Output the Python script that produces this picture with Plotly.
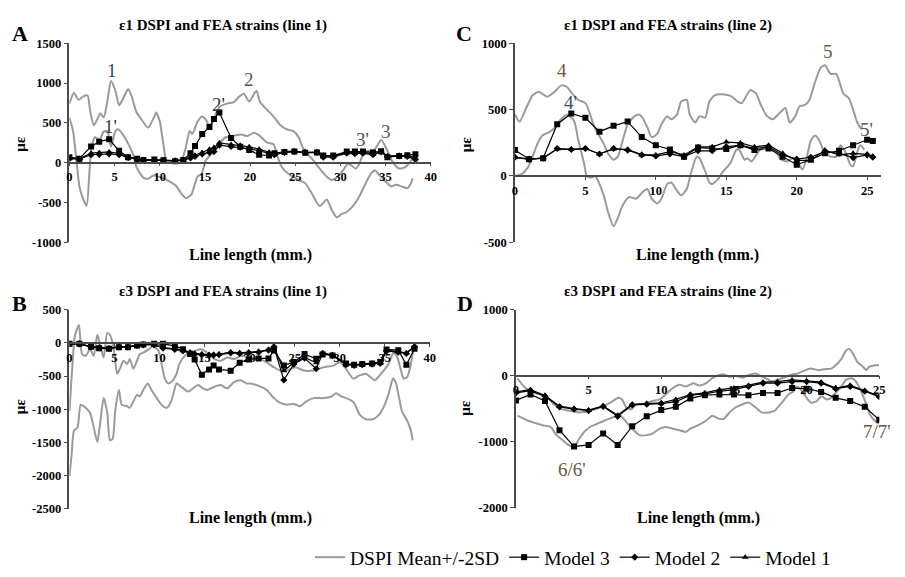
import plotly.graph_objects as go

W, H = 905, 577
OFF = 8  # page body margin of the html page

# ---------------- Panel A: e1 line 1 ----------------
A_UP_X = [0, 0.5, 1.0, 1.5, 2.0, 2.3, 2.7, 3.1, 3.4, 3.8, 4.2, 4.6, 5.1, 5.5, 6.0, 6.5, 6.9, 7.4, 8.0, 8.7, 9.4, 9.6, 10.0, 10.4, 10.8, 11.3, 12.0, 12.5, 12.9, 13.3, 13.6, 14.2, 14.7, 15.1, 15.6, 16.0, 16.6, 17.5, 18.2, 18.8, 19.3, 19.9, 20.7, 21.1, 21.9, 22.6, 23.3, 24.1, 24.8, 25.4, 25.9, 26.5, 27.0, 27.7, 28.5, 29.0, 29.7, 30.3, 30.8, 31.2, 31.7, 32.1, 32.6, 33.2, 33.8, 34.5, 35.2, 35.8, 36.5, 37.2, 37.7, 38.0]
A_UP_Y = [740, 880, 790, 830, 845, 650, 470, 550, 620, 570, 770, 1030, 900, 720, 820, 925, 830, 640, 540, 440, 580, 630, 520, 230, 0, 20, 30, 60, 200, 400, 360, 520, 580, 540, 440, 560, 700, 745, 760, 830, 865, 770, 905, 764, 662, 580, 478, 417, 396, 315, 172, 90, 29, -74, -176, -216, -176, -94, -12, -33, -74, -12, 131, 150, 170, 285, 151, 8, -74, -53, 8, 70]
A_LO_X = [0, 0.4, 0.8, 1.1, 1.4, 1.9, 2.2, 2.4, 2.8, 3.3, 3.8, 4.2, 4.6, 5.1, 5.4, 6.0, 6.5, 7.1, 7.4, 7.8, 8.2, 8.7, 9.3, 10.0, 10.5, 11.3, 11.8, 12.4, 12.9, 13.5, 13.8, 14.2, 14.6, 15.1, 15.7, 16.2, 16.8, 17.3, 18.2, 19.0, 19.7, 20.4, 21.1, 21.9, 22.6, 23.0, 23.5, 24.2, 25.4, 26.1, 26.8, 27.7, 28.5, 29.0, 29.6, 30.1, 30.6, 31.4, 32.1, 32.8, 33.4, 33.8, 34.3, 35.0, 35.6, 36.1, 36.8, 37.4, 37.8, 38.0]
A_LO_Y = [563, 400, 0, -290, -420, -540, -150, 150, 320, 290, 390, 400, 200, 400, 420, 340, 240, 90, -50, -130, -190, -200, -160, -180, -200, -250, -290, -390, -445, -400, -300, -170, -150, 30, 110, 190, 270, 320, 340, 355, 335, 376, 335, 253, 233, 90, -53, -135, -216, -257, -380, -543, -462, -584, -686, -645, -625, -543, -421, -257, -135, -94, -155, -237, -298, -278, -298, -319, -257, -196]

LINE1_NODES = [0, 1.1, 2.4, 3.3, 4.4, 5.5, 6.5, 7.5, 8.2, 9.4, 10.4, 11.7, 12.6, 13.4, 13.9, 14.7, 15.5, 16.0, 16.6, 17.9, 18.9, 19.9, 21.0, 22.1, 22.7, 23.8, 24.9, 26.1, 27.4, 28.1, 29.2, 30.7, 31.6, 32.5, 33.6, 34.5, 35.2, 36.5, 37.4, 38.3]
A_M3 = [70, 50, 205, 265, 295, 150, 70, 50, 35, 40, 30, 20, 35, 120, 210, 360, 450, 550, 630, 310, 200, 160, 100, 90, 120, 135, 140, 125, 130, 90, 90, 140, 140, 140, 130, 145, 70, 85, 95, 105]
A_M2 = [50, 45, 100, 105, 110, 100, 65, 45, 30, 30, 30, 25, 30, 60, 80, 110, 130, 140, 220, 205, 195, 175, 150, 120, 100, 130, 140, 130, 130, 70, 70, 120, 115, 120, 100, 135, 75, 85, 80, 40]
A_M1 = [60, 50, 120, 125, 135, 115, 70, 50, 35, 35, 30, 25, 35, 70, 95, 130, 170, 190, 250, 230, 220, 200, 170, 130, 110, 140, 145, 130, 130, 90, 80, 130, 120, 130, 110, 140, 85, 90, 90, 60]

# ---------------- Panel B: e3 line 1 ----------------
B_UP_X = [0, 0.3, 0.6, 1.06, 1.4, 1.8, 2.3, 2.7, 3.1, 3.4, 3.8, 4.2, 4.5, 4.9, 5.3, 5.6, 6.0, 6.4, 6.7, 7.1, 7.5, 7.8, 8.2, 8.8, 9.3, 9.9, 10.2, 10.6, 11.0, 11.5, 11.9, 12.2, 12.8, 13.3, 13.9, 14.6, 15.3, 16.1, 16.8, 17.5, 18.3, 19.0, 20.1, 21.2, 21.9, 22.7, 23.4, 24.1, 25.1, 26.0, 27.1, 28.2, 29.3, 30.0, 30.7, 31.5, 32.2, 32.9, 33.9, 34.6, 35.3, 35.7, 36.0, 36.4, 36.8, 37.1, 37.5, 37.9, 38.2]
B_UP_Y = [-1029, -400, 100, 270, -171, -196, -98, -196, 122, -24, -220, 147, 122, -73, -465, -392, -270, -318, -245, -392, -270, -171, -147, -98, -49, -122, -294, -539, -612, -563, -465, -318, -196, -147, -122, -98, -147, -245, -270, -220, -245, -196, -220, -245, -294, -368, -417, -417, -368, -417, -417, -368, -343, -294, -392, -539, -490, -465, -563, -465, -343, -220, -147, -220, -417, -539, -514, -318, -73]
B_LO_X = [0, 0.26, 0.5, 0.9, 1.25, 1.6, 2.0, 2.3, 2.7, 3.1, 3.4, 3.8, 4.2, 4.5, 4.8, 5.1, 5.5, 5.8, 6.4, 6.7, 7.1, 7.5, 7.8, 8.2, 8.7, 9.1, 9.7, 10.2, 10.8, 11.3, 11.9, 12.4, 13.2, 13.7, 14.3, 14.8, 15.3, 16.1, 16.8, 17.5, 18.3, 19.0, 19.7, 20.1, 21.2, 21.9, 22.7, 23.4, 24.1, 24.9, 25.6, 26.3, 27.1, 28.2, 29.1, 29.6, 30.2, 31.1, 31.6, 32.2, 32.9, 33.7, 34.4, 35.0, 35.5, 35.9, 36.2, 36.6, 36.9, 37.5, 37.9, 38.1]
B_LO_Y = [-2009, -1666, -1323, -1274, -931, -955, -1004, -1053, -1274, -1494, -1225, -833, -1053, -1470, -1445, -1004, -710, -931, -955, -980, -882, -784, -808, -710, -612, -710, -833, -931, -980, -882, -612, -661, -735, -686, -637, -686, -710, -661, -637, -686, -588, -563, -612, -612, -661, -710, -833, -906, -931, -921, -955, -882, -833, -833, -808, -759, -808, -857, -906, -1078, -1151, -1151, -1078, -931, -735, -539, -588, -833, -1029, -1176, -1323, -1470]
B_M3 = [-15, -15, -60, -80, -90, -65, -65, -40, -25, -15, -15, -45, -95, -170, -250, -480, -400, -340, -400, -420, -300, -250, -235, -235, -115, -340, -290, -170, -240, -175, -190, -310, -330, -320, -310, -290, -100, -110, -330, -90]
B_M2 = [-15, -15, -60, -75, -85, -60, -60, -40, -30, -30, -80, -100, -120, -150, -170, -180, -190, -185, -180, -150, -160, -150, -140, -110, -60, -560, -320, -230, -390, -160, -190, -330, -340, -330, -320, -310, -120, -140, -160, -60]
B_M1 = [-15, -15, -55, -70, -80, -55, -55, -35, -25, -25, -70, -90, -110, -140, -160, -170, -175, -175, -170, -140, -150, -140, -130, -100, -55, -420, -300, -220, -300, -150, -180, -320, -330, -320, -310, -300, -110, -130, -150, -50]

# ---------------- Panel C: e1 line 2 ----------------
C_UP_X = [0, 0.33, 0.8, 1.26, 1.7, 2.3, 2.8, 3.3, 3.7, 4.05, 4.5, 5.0, 5.3, 5.6, 5.9, 6.3, 6.6, 7.0, 7.3, 7.65, 8.0, 8.5, 8.8, 9.05, 9.4, 9.7, 10.1, 10.4, 10.8, 11.1, 11.5, 11.8, 12.2, 12.4, 12.8, 13.1, 13.5, 13.8, 14.2, 14.9, 15.4, 15.8, 16.1, 16.7, 17.1, 17.5, 17.9, 18.3, 18.8, 19.2, 19.5, 19.9, 20.2, 20.6, 20.9, 21.3, 21.7, 22.0, 22.4, 22.8, 23.0, 23.3, 23.7, 24.0, 24.3, 24.6]
C_UP_Y = [464, 410, 512, 610, 634, 598, 634, 683, 671, 622, 573, 549, 476, 378, 317, 244, 171, 122, 146, 268, 390, 451, 464, 439, 366, 293, 317, 390, 451, 427, 464, 561, 573, 464, 403, 451, 439, 561, 610, 615, 598, 561, 549, 647, 622, 525, 451, 427, 476, 512, 403, 451, 525, 537, 573, 708, 817, 834, 769, 769, 720, 622, 586, 500, 403, 350]
C_LO_X = [0, 0.44, 0.9, 1.26, 1.6, 1.95, 2.4, 2.8, 3.2, 3.7, 4.2, 4.5, 4.9, 5.1, 5.4, 5.7, 5.9, 6.3, 6.6, 7.0, 7.3, 7.65, 8.1, 8.6, 9.05, 9.4, 9.7, 10.1, 10.4, 10.8, 11.1, 11.5, 11.8, 12.2, 12.5, 12.9, 13.1, 13.5, 13.8, 14.0, 14.4, 14.7, 15.0, 15.3, 15.7, 15.9, 16.3, 16.5, 16.8, 17.2, 17.5, 17.9, 18.2, 18.6, 18.9, 19.3, 19.7, 20.1, 20.4, 20.7, 21.0, 21.3, 21.6, 21.95, 22.4, 22.8, 23.1, 23.5, 23.8, 24.0, 24.3, 24.5, 24.8]
C_LO_Y = [0, 12, 61, 146, 244, 305, 329, 360, 420, 464, 415, 268, 98, 0, -12, 0, -37, -146, -268, -378, -317, -220, -159, -171, -122, -98, -171, -207, -171, -61, -49, -110, -146, -98, 24, 146, 134, 37, -49, -61, -24, 24, 61, 98, 195, 200, 122, 134, 110, 171, 207, 220, 207, 171, 122, 110, 134, 98, 49, 134, 268, 305, 268, 183, 146, 146, 232, 171, 85, 73, 183, 232, 200]
LINE2_NODES_C = [0, 1, 2, 3, 4, 5, 6, 7, 8, 9, 10, 11, 12, 13, 14, 15, 16, 17, 18, 19, 20, 21, 22, 23, 24, 25, 25.4]
C_M3 = [195, 127, 134, 390, 471, 439, 334, 378, 410, 293, 232, 200, 146, 215, 207, 203, 232, 195, 207, 146, 85, 122, 171, 190, 232, 273, 264]
C_M2 = [141, 127, 134, 207, 200, 207, 166, 207, 195, 159, 151, 166, 146, 190, 190, 220, 232, 207, 220, 159, 127, 141, 183, 171, 139, 159, 141]
C_M1 = [141, 127, 134, 203, 200, 207, 166, 203, 200, 159, 159, 183, 159, 220, 220, 256, 249, 220, 232, 171, 117, 117, 195, 160, 171, 163, 150]

# ---------------- Panel D: e3 line 2 ----------------
D_UP_X = [0.1, 0.45, 0.8, 1.25, 1.7, 2.2, 2.6, 3.1, 3.75, 4.4, 5.1, 5.8, 6.5, 7.05, 7.3, 7.6, 7.95, 8.3, 8.75, 9.1, 9.4, 9.9, 10.3, 10.8, 11.25, 11.7, 12.2, 12.6, 13.1, 13.5, 14.0, 14.3, 14.7, 15.1, 15.6, 16.0, 16.5, 16.8, 17.2, 17.6, 17.95, 18.3, 18.6, 19.0, 19.4, 19.9, 20.3, 20.8, 21.25, 21.7, 22.0, 22.4, 22.7, 22.95, 23.2, 23.5, 23.9, 24.1, 24.3, 24.7, 25.0]
D_UP_Y = [-39, -138, -212, -261, -285, -335, -433, -507, -531, -556, -531, -482, -408, -335, -359, -482, -507, -433, -433, -408, -384, -359, -285, -187, -138, -162, -113, -148, -113, -39, 10, 20, -15, 0, -30, 10, 34, 0, -39, -89, -64, -39, -15, 20, 34, 84, 108, 84, 98, 108, 157, 256, 379, 403, 330, 207, 133, 84, 133, 157, 157]
D_LO_X = [0.1, 0.8, 1.5, 1.9, 2.4, 2.7, 3.2, 3.6, 4.0, 4.3, 4.7, 5.1, 5.6, 6.1, 6.7, 7.2, 7.6, 8.1, 8.5, 9.0, 9.4, 9.9, 10.3, 10.8, 11.25, 11.7, 12.0, 12.5, 13.1, 13.5, 14.0, 14.3, 14.7, 15.1, 15.6, 16.0, 16.5, 16.9, 17.4, 17.8, 18.3, 18.75, 19.1, 19.3, 19.7, 20.0, 20.3, 20.7, 21.0, 21.4, 21.7, 22.0, 22.4, 22.7, 23.1, 23.4, 23.75, 24.1, 24.4, 24.8, 25.0]
D_LO_Y = [-605, -679, -728, -753, -777, -876, -974, -1048, -1073, -974, -851, -777, -728, -679, -630, -605, -704, -826, -900, -900, -876, -802, -777, -802, -826, -851, -802, -753, -679, -605, -654, -654, -556, -482, -433, -408, -482, -556, -556, -531, -408, -285, -236, -162, -236, -335, -408, -384, -310, -359, -335, -261, -162, -64, -39, -89, -236, -433, -605, -704, -728]
LINE2_NODES_D = [0, 1, 2, 3, 4, 5, 6, 7, 8, 9, 10, 11, 12, 13, 14, 15, 16, 17, 18, 19, 20, 21, 22, 23, 24, 25]
D_M3 = [-374, -285, -384, -826, -1073, -1048, -876, -1048, -767, -615, -521, -472, -344, -295, -285, -285, -295, -261, -261, -187, -197, -246, -335, -384, -472, -669]
D_M2 = [-261, -226, -310, -472, -507, -531, -467, -615, -443, -433, -423, -394, -295, -275, -236, -212, -162, -113, -113, -89, -89, -113, -197, -162, -236, -320]
D_M1 = [-246, -212, -300, -462, -497, -521, -457, -600, -433, -423, -413, -359, -285, -261, -212, -187, -148, -98, -89, -64, -79, -98, -187, -148, -226, -310]

# ---------------- ticks & texts ----------------
X_TICKS_40 = [0, 5, 10, 15, 20, 25, 30, 35, 40]
X_TICKS_25 = [0, 5, 10, 15, 20, 25]
A_YTICKS = [-1000, -500, 0, 500, 1000, 1500]
B_YTICKS = [-2500, -2000, -1500, -1000, -500, 0, 500]
C_YTICKS = [-500, 0, 500, 1000]
D_YTICKS = [-2000, -1000, 0, 1000]

PANEL_TITLES = ["ε1 DSPI and FEA strains (line 1)", "ε3 DSPI and FEA strains (line 1)",
                "ε1 DSPI and FEA strains (line 2)", "ε3 DSPI and FEA strains (line 2)"]
PANEL_LETTERS = ["A", "B", "C", "D"]
X_TITLE = "Line length (mm.)"
Y_TITLE = "με"
SERIES_NAMES = ["DSPI Mean+/-2SD", "Model 3", "Model 2", "Model 1"]
POINT_LABELS = ["1", "1'", "2'", "2", "3'", "3", "4", "4'", "5", "5'", "6/6'", "7/7'"]

FONT = "Liberation Serif"
GRAY = "#9a9a9a"
AX = "#4a4a4a"


def px(x):
    return (x - OFF) / W


def py(y):
    return 1 - (y - OFF) / H


# panel layout in reference pixels: (left, right, top, bottom)
panels = [
    dict(box=(67, 432, 37, 241), xr=[0, 40], yr=[-1000, 1500], xt=X_TICKS_40, yt=A_YTICKS,
         up=(A_UP_X, A_UP_Y), lo=(A_LO_X, A_LO_Y), nodes=LINE1_NODES, m=(A_M3, A_M2, A_M1)),
    dict(box=(67, 431, 310, 514), xr=[0, 40], yr=[-2500, 500], xt=X_TICKS_40, yt=B_YTICKS,
         up=(B_UP_X, B_UP_Y), lo=(B_LO_X, B_LO_Y), nodes=LINE1_NODES, m=(B_M3, B_M2, B_M1)),
    dict(box=(517, 887, 37, 241), xr=[0, 26], yr=[-500, 1000], xt=X_TICKS_25, yt=C_YTICKS,
         up=(C_UP_X, C_UP_Y), lo=(C_LO_X, C_LO_Y), nodes=LINE2_NODES_C, m=(C_M3, C_M2, C_M1)),
    dict(box=(518, 885, 310, 513), xr=[0, 25], yr=[-2000, 1000], xt=X_TICKS_25, yt=D_YTICKS,
         up=(D_UP_X, D_UP_Y), lo=(D_LO_X, D_LO_Y), nodes=LINE2_NODES_D, m=(D_M3, D_M2, D_M1)),
]

fig = go.Figure()
layout = dict(width=W, height=H, margin=dict(l=0, r=0, t=0, b=0),
              paper_bgcolor="white", plot_bgcolor="white", showlegend=True,
              font=dict(family=FONT))

symbols = ["square", "diamond", "triangle-up"]
msizes = [6, 5.5, 6]
tickfont = dict(family=FONT, size=12.5, color="black", weight="bold")

for i, p in enumerate(panels):
    n = "" if i == 0 else str(i + 1)
    xa, ya = "x" + n, "y" + n
    l, r, t, b = p["box"]
    xdom = [px(l), px(r)]
    ydom = [py(b), py(t)]
    y0, y1 = p["yr"]
    pos = ydom[0] + (0 - y0) / (y1 - y0) * (ydom[1] - ydom[0])
    layout["xaxis" + n] = dict(domain=xdom, range=p["xr"], anchor="free", position=pos,
                               tickvals=p["xt"], ticktext=[str(v) for v in p["xt"]],
                               showline=True, linecolor=AX, linewidth=1.5,
                               ticks="outside", ticklen=3, tickcolor=AX, showgrid=False,
                               zeroline=False, tickfont=tickfont)
    layout["yaxis" + n] = dict(domain=ydom, range=p["yr"], anchor=xa,
                               tickvals=p["yt"], ticktext=[str(v) for v in p["yt"]],
                               showline=True, linecolor=AX, linewidth=1.5,
                               ticks="outside", ticklen=4, tickcolor=AX, showgrid=False,
                               zeroline=False, tickfont=tickfont)
    first = i == 0
    for k, (xx, yy) in enumerate([p["up"], p["lo"]]):
        fig.add_trace(go.Scatter(x=xx, y=yy, mode="lines", xaxis=xa, yaxis=ya,
                                 line=dict(color=GRAY, width=2, shape="spline", smoothing=0.6),
                                 name=SERIES_NAMES[0], legendgroup="dspi",
                                 showlegend=first and k == 0))
    for j in range(3):
        fig.add_trace(go.Scatter(x=p["nodes"], y=p["m"][j], mode="lines+markers",
                                 xaxis=xa, yaxis=ya,
                                 line=dict(color="black", width=1.2),
                                 marker=dict(symbol=symbols[j], size=msizes[j], color="black"),
                                 name=SERIES_NAMES[j + 1], legendgroup="m%d" % j,
                                 showlegend=first))

ann = []


def add_text(txt, x, y, size, bold=False, color="black", angle=0):
    ann.append(dict(text=txt, x=px(x), y=py(y), xref="paper", yref="paper",
                    showarrow=False, textangle=angle, xanchor="center", yanchor="middle",
                    font=dict(family=FONT, size=size, color=color,
                              weight="bold" if bold else "normal")))


title_pos = [(222, 19), (222, 291), (672, 19), (672, 291)]
letter_pos = [(17, 27), (17, 304), (466, 27), (467, 304)]
xt_pos = [(250, 254), (250, 524), (701, 254), (702, 524)]
yt_pos = [(17, 140), (17, 409), (467, 140), (467, 410)]
for i in range(4):
    add_text(PANEL_TITLES[i], *title_pos[i], 15, True)
    add_text(PANEL_LETTERS[i], *letter_pos[i], 22, True)
    add_text(X_TITLE, *xt_pos[i], 16, True)
    add_text(Y_TITLE, *yt_pos[i], 15, True, angle=-90)

# point labels (reference pixel positions and colours)
label_pos = [(110, 65), (108, 122), (218, 100), (248, 74), (363, 136), (387, 127),
             (565, 65), (573, 98), (833, 45), (872, 125), (575, 474), (883, 435)]
label_col = ["#2d3f73", "#3a3a3a", "#333333", "#4d5a6e", "#5e4a36", "#4d5a6e",
             "#7a5436", "#3f4a66", "#6e5a3c", "#4d5a6e", "#6b5540", "#6b5540"]
for txt, (x, y), c in zip(POINT_LABELS, label_pos, label_col):
    add_text(txt, x, y, 19, False, c)

layout["annotations"] = ann
layout["legend"] = dict(orientation="h", x=px(310), y=py(564), xanchor="left", yanchor="middle",
                        font=dict(family=FONT, size=19.5, color="black"), itemwidth=30,
                        bgcolor="rgba(0,0,0,0)", tracegroupgap=0)
fig.update_layout(**layout)
fig.write_html("out.html")
